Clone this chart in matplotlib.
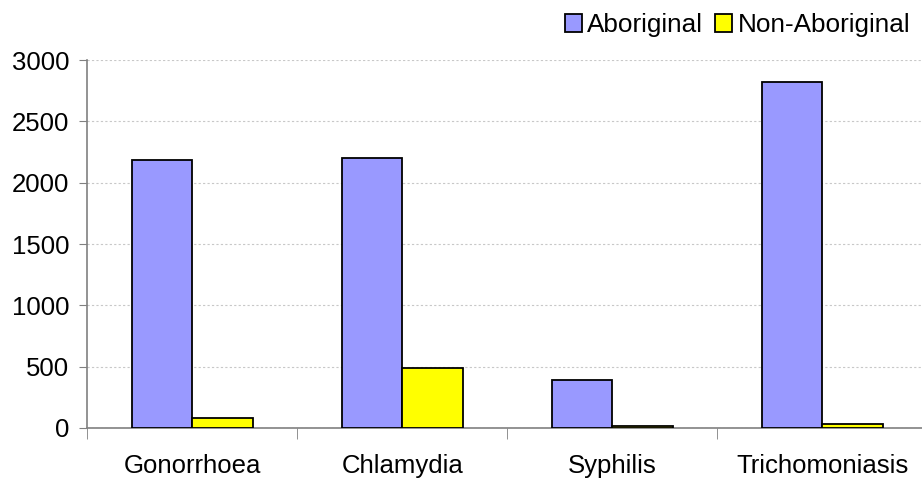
import numpy as np
import matplotlib.pyplot as plt
from matplotlib.patches import Patch

categories = ["Gonorrhoea", "Chlamydia", "Syphilis", "Trichomoniasis"]
aboriginal = [2185, 2200, 390, 2820]
non_aboriginal = [85, 490, 15, 35]
series_names = ["Aboriginal", "Non-Aboriginal"]

plt.rcParams['font.family'] = ['Liberation Sans', 'DejaVu Sans']

fig = plt.figure(figsize=(9.22, 4.79), dpi=100)
# axes runs a little past the right edge of the figure, as in the original
ax = fig.add_axes([0.0949, 0.1065, 0.911, 0.7682])

x = np.arange(len(categories))
w = 0.286
ax.bar(x - w / 2, aboriginal, w, color="#9999FF", edgecolor="black", linewidth=1.3, zorder=3)
ax.bar(x + w / 2, non_aboriginal, w, color="#FFFF00", edgecolor="black", linewidth=1.3, zorder=3)

ax.set_xlim(-0.5, len(categories) - 0.5)
ax.set_ylim(0, 3000)
ax.set_yticks(range(0, 3001, 500))
ax.tick_params(axis='y', labelsize=18.5, length=6, color="#808080", pad=7)

# category labels centred, tick marks between groups
ax.set_xticks(x)
ax.set_xticklabels(categories, fontsize=18.5)
ax.tick_params(axis='x', length=0, pad=19)
ax.set_xticks(np.arange(-0.5, len(categories)), minor=True)
ax.tick_params(axis='x', which='minor', length=8, color="#808080")

ax.grid(axis='y', color="#C8C8C8", linestyle=(0, (2, 2)), linewidth=0.8, zorder=0)
for s in ["top", "right"]:
    ax.spines[s].set_visible(False)
for s in ["left", "bottom"]:
    ax.spines[s].set_color("#808080")
    ax.spines[s].set_linewidth(1.2)

handles = [Patch(facecolor="#9999FF", edgecolor="black", linewidth=1.3),
           Patch(facecolor="#FFFF00", edgecolor="black", linewidth=1.3)]
fig.legend(handles, series_names, loc="upper right", bbox_to_anchor=(1.004, 1.005),
           ncol=2, frameon=False, fontsize=18.8, handlelength=0.65, handleheight=0.65,
           handletextpad=0.2, columnspacing=0.45, borderaxespad=0.2)

fig.savefig("out.png", dpi=100)
